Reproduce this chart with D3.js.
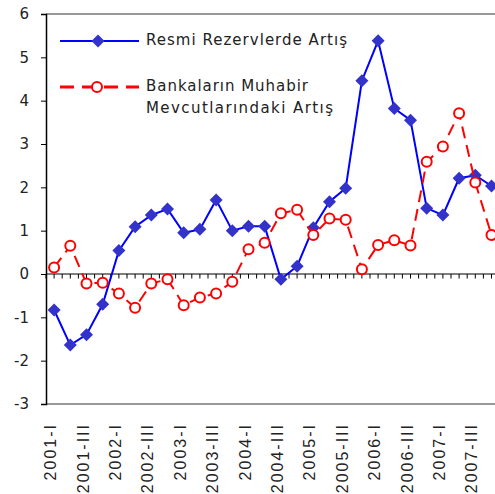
<!DOCTYPE html>
<html>
<head>
<meta charset="utf-8">
<script src="https://cdn.jsdelivr.net/npm/d3@7"></script>
<style>
  body { margin: 0; background: #fff; }
  svg { display: block; }
</style>
</head>
<body>
<div id="chart"></div>
<script>
// quarters 2001-I .. 2007-IV
var quarters = ["2001-I","2001-II","2001-III","2001-IV",
                "2002-I","2002-II","2002-III","2002-IV",
                "2003-I","2003-II","2003-III","2003-IV",
                "2004-I","2004-II","2004-III","2004-IV",
                "2005-I","2005-II","2005-III","2005-IV",
                "2006-I","2006-II","2006-III","2006-IV",
                "2007-I","2007-II","2007-III","2007-IV"];

// Resmi Rezervlerde Artış
var resmi = [-0.83, -1.64, -1.40, -0.70,
              0.54,  1.09,  1.36,  1.50,
              0.95,  1.03,  1.71,  1.00,
              1.10,  1.10, -0.12,  0.18,
              1.07,  1.67,  1.98,  4.46,
              5.38,  3.82,  3.55,  1.52,
              1.36,  2.21,  2.28,  2.03];

// Bankaların Muhabir Mevcutlarındaki Artış
var banka = [ 0.15,  0.65, -0.22, -0.20,
             -0.45, -0.78, -0.22, -0.12,
             -0.72, -0.54, -0.45, -0.18,
              0.57,  0.72,  1.40,  1.48,
              0.90,  1.28,  1.25,  0.11,
              0.67,  0.78,  0.66,  2.59,
              2.94,  3.71,  2.11,  0.90];

var yTicks = [-3, -2, -1, 0, 1, 2, 3, 4, 5, 6];
var xLabels = quarters.filter(function(d, i) { return i % 2 === 0; });

var seriesNames = ["Resmi Rezervlerde Artış", "Bankaların Muhabir", "Mevcutlarındaki Artış"];

var width = 495, height = 494;

var svg = d3.select("#chart")
  .append("svg")
    .attr("width", width)
    .attr("height", height);

var x = d3.scaleBand()
  .domain(quarters)
  .range([46, 46 + 28 * 16.2]);

var y = d3.scaleLinear()
  .domain([-3, 6])
  .range([404, 14]);

function cx(d, i) { return x(quarters[i]) + x.bandwidth() / 2; }

// plot border (top / bottom grey)
svg.append("line")
  .attr("x1", 46).attr("x2", width)
  .attr("y1", y(6)).attr("y2", y(6))
  .attr("stroke", "#999").attr("stroke-width", 2);
svg.append("line")
  .attr("x1", 46).attr("x2", width)
  .attr("y1", y(-3)).attr("y2", y(-3))
  .attr("stroke", "#999").attr("stroke-width", 2);

// y axis
var yAxis = d3.axisLeft(y)
  .tickValues(yTicks)
  .tickSize(5)
  .tickPadding(12)
  .tickFormat(function(d) { return String(d); });

var gy = svg.append("g")
  .attr("transform", "translate(46,0)")
  .call(yAxis);
gy.select(".domain").attr("stroke", "#000").attr("stroke-width", 1.5);
gy.selectAll("text")
  .style("font-family", "'DejaVu Sans', sans-serif")
  .style("font-size", "15px")
  .attr("fill", "#222");

// zero line with ticks every half category
var halfTicks = d3.range(0, quarters.length * 2 + 1).map(function(k) {
  return 46 + k * x.step() / 2;
});
var zero = svg.append("g");
zero.append("line")
  .attr("x1", 46).attr("x2", width)
  .attr("y1", y(0)).attr("y2", y(0))
  .attr("stroke", "#000").attr("stroke-width", 1.2);
zero.selectAll("line.tk")
  .data(halfTicks)
  .enter().append("line")
  .attr("class", "tk")
  .attr("x1", function(d) { return d; })
  .attr("x2", function(d) { return d; })
  .attr("y1", y(0)).attr("y2", y(0) + 4.5)
  .attr("stroke", "#000").attr("stroke-width", 1);

// x labels, rotated
svg.append("g").selectAll("text")
  .data(xLabels)
  .enter().append("text")
  .attr("transform", function(d) {
    return "translate(" + (x(d) + x.bandwidth() / 2 + 2) + "," + 423 + ") rotate(-90)";
  })
  .attr("text-anchor", "end")
  .style("font-family", "'Liberation Sans', Arial, sans-serif")
  .style("font-size", "16px")
  .style("letter-spacing", "2px")
  .attr("fill", "#222")
  .text(function(d) { return d; });

var diamond = "M0,-6.5L6.5,0L0,6.5L-6.5,0Z";

// Resmi Rezervlerde Artış
var lineR = d3.line()
  .x(cx)
  .y(function(d) { return y(d); });

svg.append("path")
  .datum(resmi)
  .attr("d", lineR)
  .attr("fill", "none")
  .attr("stroke", "#0000ff")
  .attr("stroke-width", 2);

svg.append("g").selectAll("path")
  .data(resmi)
  .enter().append("path")
  .attr("d", diamond)
  .attr("transform", function(d, i) { return "translate(" + cx(d, i) + "," + y(d) + ")"; })
  .attr("fill", "#3333cc");

// Bankaların Muhabir Mevcutlarındaki Artış
svg.append("path")
  .datum(banka)
  .attr("d", lineR)
  .attr("fill", "none")
  .attr("stroke", "#ff0000")
  .attr("stroke-width", 2)
  .attr("stroke-dasharray", "12,7");

svg.append("g").selectAll("circle")
  .data(banka)
  .enter().append("circle")
  .attr("cx", cx)
  .attr("cy", function(d) { return y(d); })
  .attr("r", 5)
  .attr("fill", "#fff")
  .attr("stroke", "#ff0000")
  .attr("stroke-width", 2);

// legend
var leg = svg.append("g");
leg.append("line")
  .attr("x1", 60).attr("x2", 139)
  .attr("y1", 41).attr("y2", 41)
  .attr("stroke", "#0000ff").attr("stroke-width", 2);
leg.append("path")
  .attr("d", diamond)
  .attr("transform", "translate(98,41)")
  .attr("fill", "#3333cc");
leg.append("line")
  .attr("x1", 60).attr("x2", 139)
  .attr("y1", 87).attr("y2", 87)
  .attr("stroke", "#ff0000").attr("stroke-width", 3)
  .attr("stroke-dasharray", "14,8");
leg.append("circle")
  .attr("cx", 97).attr("cy", 87).attr("r", 5)
  .attr("fill", "#fff")
  .attr("stroke", "#ff0000").attr("stroke-width", 2);

var legText = [
  { t: seriesNames[0], y: 45, w: 201 },
  { t: seriesNames[1], y: 91, w: 162 },
  { t: seriesNames[2], y: 113, w: 187 }
];
leg.selectAll("text")
  .data(legText)
  .enter().append("text")
  .attr("x", 146)
  .attr("y", function(d) { return d.y; })
  .attr("textLength", function(d) { return d.w; })
  .attr("lengthAdjust", "spacing")
  .style("font-family", "'DejaVu Sans', sans-serif")
  .style("font-size", "15px")
  .attr("fill", "#222")
  .text(function(d) { return d.t; });
</script>
</body>
</html>
